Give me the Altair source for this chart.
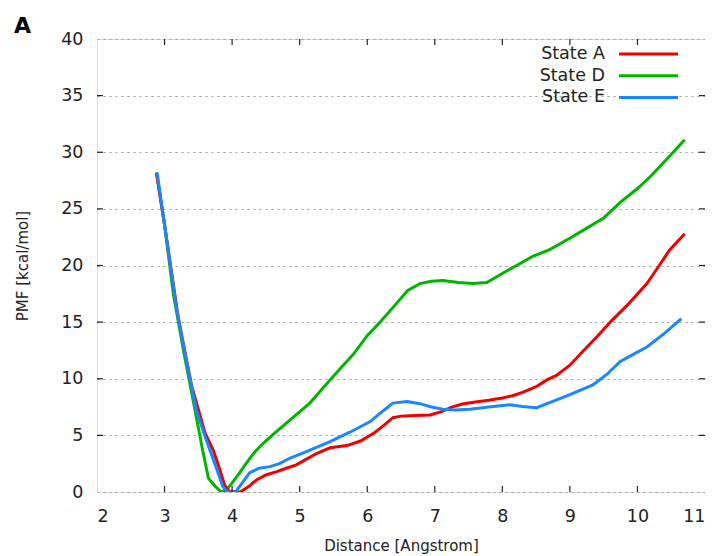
import altair as alt
import pandas as pd

red_x = [2.88, 3.0, 3.2, 3.4, 3.6, 3.72, 3.8, 3.89, 3.95, 4.12, 4.25, 4.36, 4.5, 4.66, 4.8, 4.95, 5.1, 5.25, 5.45, 5.7,
         5.9, 6.1, 6.25, 6.38, 6.5, 6.7, 6.93, 7.1, 7.25, 7.41, 7.6, 7.8, 8.0, 8.15, 8.3, 8.5, 8.66, 8.8, 9.0, 9.19,
         9.4, 9.63, 9.85, 10.14, 10.3, 10.48, 10.7]
red_y = [28.2, 23.6, 15.5, 9.4, 5.2, 3.7, 2.3, 0.6, 0.1, 0.0, 0.5, 1.06, 1.5, 1.8, 2.1, 2.4, 2.9, 3.4, 3.9, 4.1,
         4.5, 5.2, 5.9, 6.56, 6.7, 6.75, 6.8, 7.1, 7.5, 7.77, 7.95, 8.1, 8.3, 8.5, 8.8, 9.3, 9.9, 10.3, 11.2, 12.4,
         13.7, 15.2, 16.5, 18.4, 19.8, 21.4, 22.8]

blue_x = [2.89, 3.0, 3.18, 3.3, 3.47, 3.6, 3.67, 3.78, 3.86, 3.93, 4.05, 4.15, 4.26, 4.4, 4.56, 4.7, 4.86, 5.1, 5.45,
          5.75, 6.04, 6.2, 6.38, 6.59, 6.78, 6.95, 7.12, 7.3, 7.52, 7.8, 8.11, 8.3, 8.51, 8.7, 9.0, 9.34, 9.55, 9.74,
          9.95, 10.14, 10.4, 10.65]
blue_y = [28.2, 23.6, 16.1, 12.3, 7.24, 4.9, 3.7, 1.9, 0.5, 0.0, 0.0, 0.8, 1.7, 2.1, 2.24, 2.5, 3.0, 3.56, 4.45,
          5.3, 6.2, 7.0, 7.85, 8.0, 7.8, 7.5, 7.3, 7.25, 7.3, 7.5, 7.7, 7.55, 7.45, 7.9, 8.6, 9.45, 10.4, 11.5,
          12.2, 12.8, 14.0, 15.3]

green_x = [2.88, 3.0, 3.13, 3.28, 3.47, 3.56, 3.65, 3.75, 3.84, 3.92, 4.0, 4.1, 4.21, 4.33, 4.46, 4.65, 4.86, 5.15,
           5.45, 5.8, 6.0, 6.19, 6.44, 6.6, 6.78, 6.95, 7.12, 7.35, 7.56, 7.77, 8.0, 8.21, 8.45, 8.7, 9.0, 9.25, 9.5,
           9.75, 10.0, 10.2, 10.45, 10.7]
green_y = [28.2, 23.6, 17.5, 12.5, 6.65, 3.8, 1.2, 0.5, 0.0, 0.2, 0.8, 1.6, 2.55, 3.5, 4.3, 5.3, 6.36, 7.85,
           9.9, 12.2, 13.8, 15.0, 16.7, 17.8, 18.4, 18.6, 18.67, 18.5, 18.4, 18.5, 19.3, 20.0, 20.8, 21.4, 22.4, 23.3,
           24.2, 25.6, 26.8, 27.9, 29.5, 31.1]

series_names = ["State A", "State D", "State E"]
series_colors = ["#f20000", "#00b400", "#1a86ff"]
x_ticks = [2, 3, 4, 5, 6, 7, 8, 9, 10, 11]
y_ticks = [0, 5, 10, 15, 20, 25, 30, 35, 40]

W, H = 608, 453
FONT = "DejaVu Sans"

xs = alt.Scale(domain=[2, 11], nice=False)
ys = alt.Scale(domain=[0, 40], nice=False)

def line_layer(xv, yv, color):
    df = pd.DataFrame({"x": xv, "y": yv, "i": range(len(xv))})
    return alt.Chart(df).mark_line(color=color, strokeWidth=3, clip=True).encode(
        x=alt.X("x:Q", scale=xs), y=alt.Y("y:Q", scale=ys), order="i:Q")

base_axes = alt.Chart(pd.DataFrame({"x": [2], "y": [0]})).mark_point(opacity=0).encode(
    x=alt.X("x:Q", scale=xs, title="Distance [Angstrom]",
            axis=alt.Axis(values=x_ticks, format="d", grid=False, tickSize=0, domain=False, labelPadding=15,
                          titlePadding=14, labelFontSize=17.5, titleFontSize=15, labelFont=FONT, titleFont=FONT,
                          labelColor="#222", titleColor="#222", titleFontWeight="normal")),
    y=alt.Y("y:Q", scale=ys, title="PMF [kcal/mol]",
            axis=alt.Axis(values=y_ticks, format="d", grid=True, gridDash=[2, 4], gridColor="#999", gridWidth=1,
                          tickSize=0, domain=False, labelPadding=14, titlePadding=30, labelFontSize=17.5,
                          titleFontSize=15, labelFont=FONT, titleFont=FONT, labelColor="#222",
                          titleColor="#222", titleFontWeight="normal")),
)

inner_x = pd.DataFrame({"t": x_ticks[1:-1]})
inner_y = pd.DataFrame({"t": y_ticks[1:-1]})
tick_style = dict(color="#222", strokeWidth=1.2)
ticks = [
    alt.Chart(inner_x).mark_rule(**tick_style).encode(x=alt.X("t:Q", scale=xs), y=alt.value(H), y2=alt.value(H - 6)),
    alt.Chart(inner_x).mark_rule(**tick_style).encode(x=alt.X("t:Q", scale=xs), y=alt.value(0), y2=alt.value(6)),
    alt.Chart(inner_y).mark_rule(**tick_style).encode(y=alt.Y("t:Q", scale=ys), x=alt.value(0), x2=alt.value(6)),
    alt.Chart(inner_y).mark_rule(**tick_style).encode(y=alt.Y("t:Q", scale=ys), x=alt.value(W), x2=alt.value(W - 6)),
]

legend_layers = []
for k, (name, col) in enumerate(zip(series_names, series_colors)):
    yy = 15 + 21.7 * k
    ldf = pd.DataFrame({"label": [name]})
    legend_layers.append(alt.Chart(ldf).mark_text(align="right", baseline="middle", fontSize=17.5, font=FONT,
                                                  color="#222").encode(text="label:N", x=alt.value(508), y=alt.value(yy)))
    legend_layers.append(alt.Chart(ldf).mark_rule(color=col, strokeWidth=3).encode(
        x=alt.value(522), x2=alt.value(581), y=alt.value(yy)))

panel = alt.Chart(pd.DataFrame({"t": ["A"]})).mark_text(align="left", baseline="alphabetic", fontSize=22,
                                                         fontWeight="bold", font=FONT, color="#000").encode(
    text="t:N", x=alt.value(-83), y=alt.value(-6))

chart = alt.layer(
    base_axes,
    line_layer(green_x, green_y, series_colors[1]),
    line_layer(red_x, red_y, series_colors[0]),
    line_layer(blue_x, blue_y, series_colors[2]),
    *ticks, *legend_layers, panel,
).properties(
    width=W, height=H,
    autosize=alt.AutoSizeParams(type="none"),
    padding={"left": 89, "top": 31, "right": 0, "bottom": 62},
).configure_view(stroke="#222", strokeWidth=1.3).configure(background="white")

chart.save("out.html", embed_options={"renderer": "svg", "actions": False})
